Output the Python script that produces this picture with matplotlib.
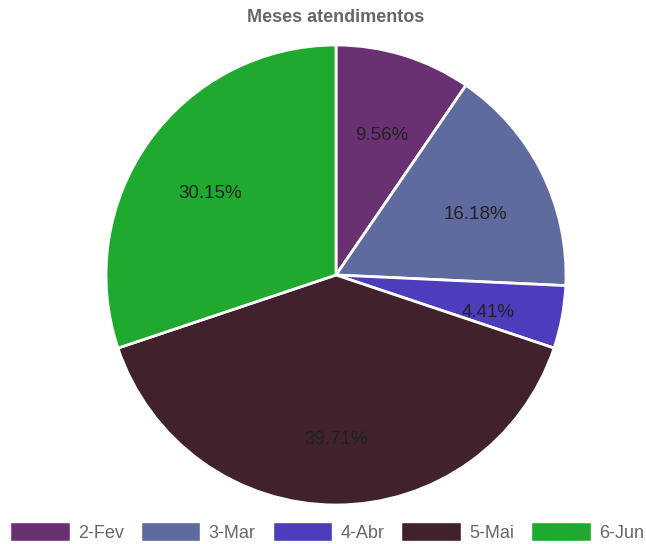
import matplotlib
matplotlib.use('Agg')
import matplotlib.pyplot as plt
from matplotlib.patches import Patch
from matplotlib.transforms import offset_copy

# dados
meses = ['2-Fev', '3-Mar', '4-Abr', '5-Mai', '6-Jun']
atendimentos = [13, 22, 6, 54, 41]
cores = ['#6a3172', '#5f6b9f', '#4d3cbb', '#40212c', '#1faa2f']

plt.rcParams['font.family'] = ['Liberation Sans', 'DejaVu Sans']

fig = plt.figure(figsize=(6.46, 5.44), dpi=100)
ax = fig.add_axes([106/646, 39/544, 460/646, 460/544])

wedges, textos, autotextos = ax.pie(atendimentos, colors=cores, startangle=90, counterclock=False,
                                    autopct='%.2f%%', pctdistance=0.675, radius=1,
                                    wedgeprops=dict(edgecolor='white', linewidth=2))
# rotulos um pouco abaixo do centro
desloc = offset_copy(ax.transData, fig=fig, x=0, y=-9, units='dots')
for t in autotextos:
    t.set_fontsize(13.5)
    t.set_color('#222222')
    t.set_transform(desloc)
ax.set_xlim(-1, 1)
ax.set_ylim(-1, 1)
ax.set_aspect('equal')

fig.text(336/646, 1 - 17/544, 'Meses atendimentos', ha='center', va='center',
         fontsize=13, fontweight='bold', color='#666666')

handles = [Patch(facecolor=c, edgecolor='white', label=m) for c, m in zip(cores, meses)]
fig.legend(handles=handles, loc='center', bbox_to_anchor=(327/646, 1 - 532/544), ncol=5,
           frameon=False, fontsize=13, handlelength=3.3, handleheight=1.25,
           handletextpad=0.45, columnspacing=0.95, labelcolor='#666666',
           borderpad=0, borderaxespad=0)

fig.savefig('out.png', dpi=100)
